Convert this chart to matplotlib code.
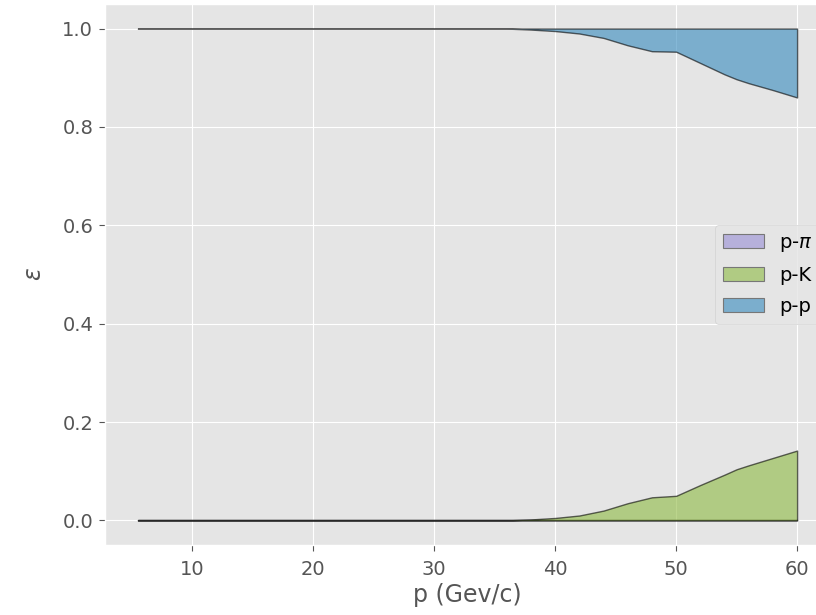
import matplotlib
matplotlib.use("Agg")
import matplotlib.pyplot as plt

plt.style.use("ggplot")

# momentum points (GeV/c)
p = [5.5, 10, 15, 20, 25, 30, 35, 36, 38, 40, 42, 44, 46, 48, 50, 52, 54, 55, 56, 58, 60]
# p-pi separation (zero everywhere)
eff_pi = [0, 0, 0, 0, 0, 0, 0, 0, 0, 0, 0, 0, 0, 0, 0, 0, 0, 0, 0, 0, 0]
# p-K band (upper edge)
eff_K = [0, 0, 0, 0, 0, 0, 0, 0, 0.002, 0.005, 0.01, 0.02, 0.035, 0.047, 0.05,
         0.072, 0.093, 0.104, 0.112, 0.127, 0.142]
# p-p band (lower edge, filled up to 1)
eff_pp = [1, 1, 1, 1, 1, 1, 1, 1, 0.998, 0.995, 0.99, 0.981, 0.966, 0.954, 0.953,
          0.93, 0.907, 0.897, 0.889, 0.875, 0.86]
top = [1] * len(p)

labels = [r"p-$\pi$", "p-K", "p-p"]
colors = ["#988ED5", "#8EBA42", "#348ABD"]

fig = plt.figure(figsize=(8.16, 6.15), dpi=100)
ax = fig.add_axes([0.1287, 0.1138, 0.8885, 0.8797])

ax.fill_between(p, 0, eff_pi, color=colors[0], alpha=0.6, edgecolor="black",
                linewidth=1.0, label=labels[0])
ax.fill_between(p, 0, eff_K, color=colors[1], alpha=0.6, edgecolor="black",
                linewidth=1.0, label=labels[1])
ax.fill_between(p, eff_pp, top, color=colors[2], alpha=0.6, edgecolor="black",
                linewidth=1.0, label=labels[2])

ax.set_xlabel("p (Gev/c)", fontsize=17, labelpad=3)
ax.set_ylabel(r"$\varepsilon$", fontsize=17, labelpad=12)
ax.tick_params(axis="x", labelsize=14, length=4.5, pad=6)
ax.tick_params(axis="y", labelsize=14, length=4.5, pad=4)
leg = ax.legend(loc="center right", fontsize=14, labelspacing=0.62,
                handlelength=2.1)
for h in leg.legend_handles:
    h.set_linewidth(0.8)
    h.set_edgecolor("#777777")

fig.savefig("out.png", dpi=100)
